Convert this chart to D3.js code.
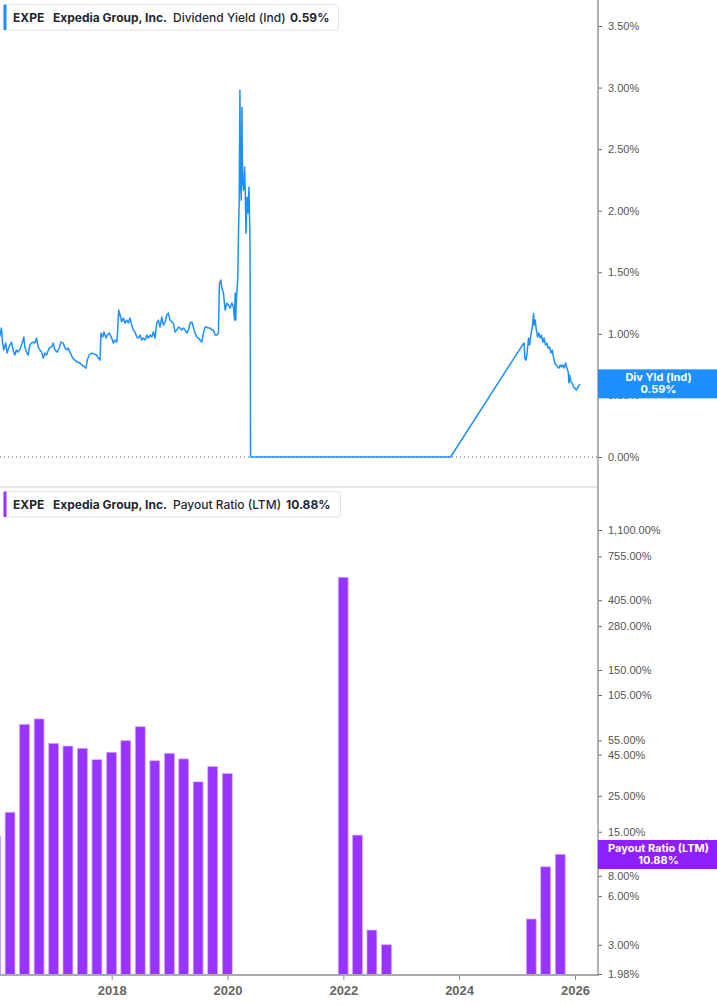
<!DOCTYPE html>
<html>
<head>
<meta charset="utf-8">
<script src="https://cdn.jsdelivr.net/npm/d3@7"></script>
<style>
  body { margin: 0; background: #fff; font-family: Inter, "Noto Sans", sans-serif; }
  .tick-label { font-size: 11px; fill: #555; }
  .year-label { font-size: 13px; font-weight: 700; fill: #666; }
  .legend-text { font-size: 12px; fill: #1f2733; }
</style>
</head>
<body>
<svg id="chart"></svg>
<script>
// dividend yield (Ind), % -- dates as decimal years
const yieldYears = [
  2016.068, 2016.097, 2016.114, 2016.137, 2016.171, 2016.194, 2016.228, 2016.270, 2016.298, 2016.327,
  2016.356, 2016.384, 2016.426, 2016.460, 2016.483, 2016.500, 2016.529, 2016.557, 2016.586, 2016.616,
  2016.644, 2016.673, 2016.702, 2016.730, 2016.760, 2016.789, 2016.817, 2016.846, 2016.875, 2016.920,
  2016.962, 2016.990, 2017.019, 2017.059, 2017.093, 2017.123, 2017.162, 2017.192, 2017.221, 2017.249,
  2017.279, 2017.325, 2017.365, 2017.405, 2017.452, 2017.481, 2017.509, 2017.555, 2017.578, 2017.612,
  2017.654, 2017.694, 2017.740, 2017.768, 2017.798, 2017.815, 2017.844, 2017.867, 2017.901, 2017.924,
  2017.958, 2018.000, 2018.028, 2018.057, 2018.087, 2018.097, 2018.121, 2018.144, 2018.173, 2018.201,
  2018.230, 2018.260, 2018.287, 2018.317, 2018.346, 2018.374, 2018.403, 2018.433, 2018.460, 2018.490,
  2018.519, 2018.547, 2018.576, 2018.606, 2018.633, 2018.663, 2018.692, 2018.720, 2018.749, 2018.779,
  2018.806, 2018.836, 2018.865, 2018.893, 2018.922, 2018.952, 2018.979, 2019.009, 2019.038, 2019.066,
  2019.095, 2019.125, 2019.152, 2019.182, 2019.211, 2019.239, 2019.268, 2019.298, 2019.325, 2019.355,
  2019.384, 2019.412, 2019.441, 2019.471, 2019.498, 2019.528, 2019.557, 2019.585, 2019.614, 2019.644,
  2019.671, 2019.701, 2019.730, 2019.758, 2019.787, 2019.817, 2019.844, 2019.862, 2019.886, 2019.903,
  2019.931, 2019.960, 2019.990, 2020.017, 2020.047, 2020.076, 2020.104, 2020.121, 2020.133, 2020.145,
  2020.151, 2020.173, 2020.180, 2020.191, 2020.203, 2020.215, 2020.225, 2020.238, 2020.250, 2020.260,
  2020.277, 2020.295, 2020.307, 2020.319, 2020.336, 2020.353, 2020.371, 2020.388, 2020.393, 2020.398,
  2023.853, 2025.111, 2025.121, 2025.133, 2025.151, 2025.168, 2025.180, 2025.198, 2025.215, 2025.237,
  2025.267, 2025.284, 2025.294, 2025.312, 2025.329, 2025.353, 2025.376, 2025.398, 2025.422, 2025.445,
  2025.467, 2025.491, 2025.514, 2025.536, 2025.560, 2025.583, 2025.606, 2025.630, 2025.652, 2025.675,
  2025.699, 2025.722, 2025.744, 2025.768, 2025.791, 2025.814, 2025.838, 2025.860, 2025.883, 2025.895,
  2025.907, 2025.929, 2025.952, 2025.976, 2025.999, 2026.021, 2026.045, 2026.068, 2026.091
];
const yieldValues = [
  0.976, 1.047, 0.936, 0.869, 0.925, 0.844, 0.893, 0.933, 0.869, 0.828,
  0.869, 0.852, 0.885, 0.933, 0.974, 0.893, 0.852, 0.828, 0.909, 0.925,
  0.933, 0.925, 0.966, 0.893, 0.869, 0.852, 0.804, 0.844, 0.828, 0.885,
  0.893, 0.925, 0.869, 0.852, 0.885, 0.933, 0.925, 0.885, 0.869, 0.885,
  0.852, 0.804, 0.787, 0.771, 0.763, 0.747, 0.739, 0.722, 0.787, 0.828,
  0.844, 0.836, 0.828, 0.804, 0.787, 1.006, 0.974, 1.015, 0.966, 0.990,
  1.006, 0.966, 0.925, 0.950, 0.933, 0.974, 1.193, 1.153, 1.098, 1.128,
  1.088, 1.112, 1.088, 1.128, 1.071, 1.031, 1.015, 0.974, 0.966, 0.990,
  0.950, 0.966, 0.950, 0.990, 0.966, 0.990, 0.974, 1.015, 0.966, 1.088,
  1.112, 1.055, 1.136, 1.071, 1.096, 1.153, 1.169, 1.112, 1.096, 1.088,
  1.015, 1.031, 1.055, 1.047, 1.031, 1.047, 1.031, 1.006, 1.031, 1.088,
  1.096, 1.055, 1.006, 0.974, 0.966, 0.950, 0.933, 1.006, 1.055, 1.055,
  1.047, 1.047, 1.031, 1.031, 0.990, 0.990, 1.006, 1.412, 1.437, 1.372,
  1.331, 1.193, 1.250, 1.234, 1.209, 1.250, 1.218, 1.112, 1.331, 1.112,
  1.250, 1.412, 1.494, 1.843, 2.086, 2.979, 2.248, 2.086, 2.841, 2.248,
  2.167, 2.354, 2.143, 1.818, 2.110, 1.981, 2.192, 1.761, 1.169, 0,
  0, 0.923, 0.923, 0.801, 0.787, 0.828, 0.885, 0.966, 0.909, 0.990,
  1.071, 1.166, 1.071, 1.112, 1.047, 0.974, 1.006, 0.966, 0.990, 0.933,
  0.966, 0.909, 0.925, 0.885, 0.893, 0.844, 0.869, 0.804, 0.763, 0.747,
  0.731, 0.722, 0.747, 0.731, 0.747, 0.722, 0.763, 0.722, 0.690, 0.601,
  0.666, 0.609, 0.601, 0.568, 0.560, 0.544, 0.560, 0.584, 0.590
];
const yieldTicks = [0, 0.5, 1, 1.5, 2, 2.5, 3, 3.5];

// payout ratio (LTM), %, quarter ends
const payoutDates = [
  "2015-12-31", "2016-03-31", "2016-06-30", "2016-09-30", "2016-12-31",
  "2017-03-31", "2017-06-30", "2017-09-30", "2017-12-31",
  "2018-03-31", "2018-06-30", "2018-09-30", "2018-12-31",
  "2019-03-31", "2019-06-30", "2019-09-30", "2019-12-31",
  "2021-12-31", "2022-03-31", "2022-06-30", "2022-09-30",
  "2025-03-31", "2025-06-30", "2025-09-30"
];
const payoutValues = [
  14.1, 19.8, 69.2, 74.7, 52.8,
  50.8, 49.2, 41.8, 46.5,
  54.8, 66.9, 41.2, 45.8,
  42.3, 30.5, 37.9, 34.3,
  561, 14.3, 3.7, 3.0,
  4.33, 9.1, 10.88
];
const payoutTicks = [1.98, 3, 6, 8, 15, 25, 45, 55, 105, 150, 280, 405, 755, 1100];
const yearTicks = ["2018-01-01", "2020-01-01", "2022-01-01", "2024-01-01", "2026-01-01"];

const W = 717, H = 1005;
const axisX = 598;
const blue = "#1e8fff", purple = "#9933ff", labelPurple = "#8f1fff";

const svg = d3.select("#chart").attr("width", W).attr("height", H);

function yearToDate(t) {
  const y = Math.floor(t);
  const a = Date.UTC(y, 0, 1), b = Date.UTC(y + 1, 0, 1);
  return new Date(a + (t - y) * (b - a));
}
const parse = d3.utcParse("%Y-%m-%d");

// shared time scale
const x = d3.scaleUtc()
  .domain([parse("2018-01-01"), parse("2026-01-01")])
  .range([111.7, 575]);

const yTop = d3.scaleLinear().domain([0, 3.5]).range([457, 26]);
const yBot = d3.scaleLog().domain([1.98, 1100]).range([974, 530]);

svg.append("defs").append("clipPath").attr("id", "plot")
  .append("rect").attr("x", 0).attr("y", 0).attr("width", axisX).attr("height", H);

// ---- top panel ----
svg.append("line")
  .attr("x1", 0).attr("x2", axisX)
  .attr("y1", yTop(0)).attr("y2", yTop(0))
  .attr("stroke", "#555").attr("stroke-width", 1)
  .attr("stroke-dasharray", "1,3");

const yieldData = yieldYears.map((t, i) => ({ date: yearToDate(t), v: yieldValues[i] }));
svg.append("path")
  .datum(yieldData)
  .attr("clip-path", "url(#plot)")
  .attr("fill", "none")
  .attr("stroke", blue)
  .attr("stroke-width", 1.5)
  .attr("stroke-linejoin", "round")
  .attr("d", d3.line().x(d => x(d.date)).y(d => yTop(d.v)));

const topAxis = svg.append("g").attr("transform", `translate(${axisX},0)`)
  .call(d3.axisRight(yTop).tickValues(yieldTicks).tickSize(4).tickPadding(6)
    .tickFormat(d => d3.format(".2f")(d) + "%"));
topAxis.select(".domain").remove();
topAxis.selectAll("line").attr("stroke", "#666");
topAxis.selectAll("text").attr("class", "tick-label").attr("font-family", null).attr("font-size", null);

// separator between panels
svg.append("line").attr("x1", 0).attr("x2", axisX).attr("y1", 487).attr("y2", 487)
  .attr("stroke", "#ddd").attr("stroke-width", 1.5);

// ---- bottom panel ----
const barW = (x(parse("2018-04-01")) - x(parse("2018-01-01"))) * 0.69;
svg.append("g").attr("clip-path", "url(#plot)")
  .selectAll("rect")
  .data(payoutDates.map((d, i) => ({ date: parse(d), v: payoutValues[i] })))
  .join("rect")
  .attr("x", d => x(d.date) - barW / 2)
  .attr("y", d => yBot(d.v))
  .attr("width", barW)
  .attr("height", d => yBot.range()[0] + 1 - yBot(d.v))
  .attr("fill", purple)
  .attr("stroke", "#cfa8ff")
  .attr("stroke-width", 0.7);

const botAxis = svg.append("g").attr("transform", `translate(${axisX},0)`)
  .call(d3.axisRight(yBot).tickValues(payoutTicks).tickSize(4).tickPadding(6)
    .tickFormat(d => d3.format(",.2f")(d) + "%"));
botAxis.select(".domain").remove();
botAxis.selectAll("line").attr("stroke", "#666");
botAxis.selectAll("text").attr("class", "tick-label").attr("font-family", null).attr("font-size", null);

const xAxis = svg.append("g").attr("transform", "translate(0,975)")
  .call(d3.axisBottom(x).tickValues(yearTicks.map(parse)).tickSize(5).tickPadding(6)
    .tickFormat(d3.utcFormat("%Y")));
xAxis.select(".domain").remove();
xAxis.selectAll("line").attr("stroke", "#888");
xAxis.selectAll("text").attr("class", "year-label").attr("font-family", null).attr("font-size", null);
svg.append("line").attr("x1", 0).attr("x2", axisX).attr("y1", 975).attr("y2", 975)
  .attr("stroke", "#aaa").attr("stroke-width", 2);

// right axis line across both panels
svg.append("line").attr("x1", axisX).attr("x2", axisX).attr("y1", 0).attr("y2", 976)
  .attr("stroke", "#999").attr("stroke-width", 1.5);

// ---- value labels on the axis ----
function axisBadge(cy, color, line1, line2) {
  svg.append("rect").attr("x", axisX).attr("y", cy - 14.5).attr("width", W - axisX).attr("height", 29)
    .attr("fill", color);
  const t = svg.append("text").attr("x", (axisX + W) / 2 + 1).attr("y", cy - 2.5)
    .attr("text-anchor", "middle").attr("fill", "#fff")
    .attr("font-size", 11).attr("font-weight", 700);
  t.append("tspan").attr("x", (axisX + W) / 2 + 1).text(line1);
  t.append("tspan").attr("x", (axisX + W) / 2 + 1).attr("dy", 12).text(line2);
}
axisBadge(yTop(yieldValues[yieldValues.length - 1]) - 0.5, blue, "Div Yld (Ind)", "0.59%");
axisBadge(854.5, labelPurple, "Payout Ratio (LTM)", "10.88%");

// ---- legends ----
function legend(y0, w, color, parts) {
  const g = svg.append("g");
  g.append("rect").attr("x", 3.5).attr("y", y0).attr("width", w).attr("height", 25.5)
    .attr("rx", 3).attr("fill", "#fff").attr("stroke", "#e3e3e3");
  g.append("rect").attr("x", 3.5).attr("y", y0).attr("width", 3).attr("height", 25.5)
    .attr("fill", color);
  parts.forEach(p => {
    g.append("text").attr("class", "legend-text")
      .attr("x", p.x).attr("y", y0 + 17)
      .attr("font-weight", p.bold ? 700 : 500)
      .text(p.text);
  });
}
legend(4.5, 335, blue, [
  { x: 13, text: "EXPE", bold: true },
  { x: 53, text: "Expedia Group, Inc.", bold: true },
  { x: 173, text: "Dividend Yield (Ind)", bold: false },
  { x: 290, text: "0.59%", bold: true }
]);
legend(491.5, 337, purple, [
  { x: 13, text: "EXPE", bold: true },
  { x: 53, text: "Expedia Group, Inc.", bold: true },
  { x: 173, text: "Payout Ratio (LTM)", bold: false },
  { x: 286, text: "10.88%", bold: true }
]);
</script>
</body>
</html>
